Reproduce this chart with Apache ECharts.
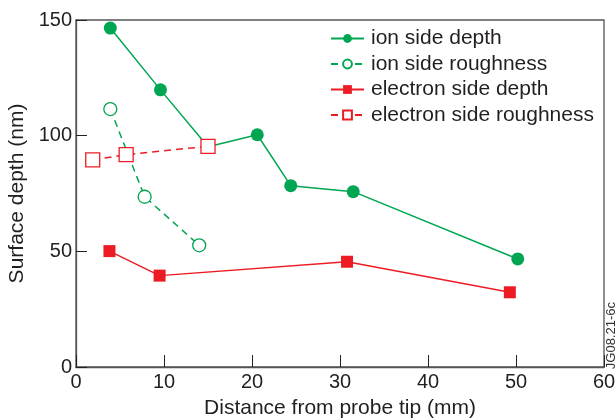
<!DOCTYPE html>
<html><head><meta charset="utf-8">
<script src="https://cdn.jsdelivr.net/npm/echarts@6/dist/echarts.min.js"></script>
<style>html,body{margin:0;padding:0;background:#fff}#c{width:615px;height:419px}</style>
</head><body><div id="c"></div>
<script>
const xTicks = [0, 10, 20, 30, 40, 50, 60];
const yTicks = [0, 50, 100, 150];
const seriesNames = ['ion side depth', 'ion side roughness', 'electron side depth', 'electron side roughness'];
const ionDepth = [[3.9, 146.5], [9.6, 119.8], [15.0, 95.2], [20.6, 100.4], [24.4, 78.4], [31.5, 75.8], [50.2, 46.7]];
const ionRough = [[3.9, 111.5], [7.8, 73.6], [14.0, 52.6]];
const elecDepth = [[3.8, 50.1], [9.5, 39.5], [30.8, 45.5], [49.3, 32.3]];
const elecRough = [[1.9, 89.5], [5.7, 91.8], [15.0, 95.4]];

const green = '#00a651', red = '#ed1c24', txt = '#231f20', axisCol = '#555';
const font = '"Liberation Sans", Arial, Helvetica, sans-serif';

const chart = echarts.init(document.getElementById('c'), null, {renderer: 'canvas'});
function mk(name, data, color, dashed, filled, symbol, size) {
  return {
    name, type: 'line', data, symbol, symbolSize: size,
    lineStyle: {color, width: 1.5, type: dashed ? [7, 5] : 'solid'},
    itemStyle: {color: filled ? color : '#fff', borderColor: color, borderWidth: filled ? 0 : 1.3},
    emphasis: {disabled: true}, animation: false, z: filled ? 3 : 4
  };
}
chart.setOption({
  animation: false,
  grid: {left: 76, right: 11, top: 20, bottom: 52, outerBoundsMode: 'none', containLabel: false,
         show: true, borderColor: axisCol, borderWidth: 1.3, backgroundColor: 'transparent'},
  legend: {
    left: 325, top: 23, orient: 'vertical', itemWidth: 33, itemHeight: 11, itemGap: 4.5,
    data: seriesNames,
    textStyle: {fontFamily: font, fontSize: 21, lineHeight: 21, color: txt, padding: [0, 0, 0, 2]},
    selectedMode: false
  },
  xAxis: {
    type: 'value', min: xTicks[0], max: xTicks[xTicks.length - 1], interval: 10,
    name: 'Distance from probe tip (mm)', nameLocation: 'middle', nameGap: 31,
    nameTextStyle: {fontFamily: font, fontSize: 21, color: txt},
    axisLine: {show: true, lineStyle: {color: axisCol, width: 1.3}},
    axisTick: {show: true, inside: true, length: 12, lineStyle: {color: '#222', width: 1}},
    axisLabel: {fontFamily: font, fontSize: 20, color: txt, margin: 5},
    splitLine: {show: false}
  },
  yAxis: {
    type: 'value', min: yTicks[0], max: yTicks[yTicks.length - 1], interval: 50,
    name: 'Surface depth (nm)', nameLocation: 'middle', nameGap: 36,
    nameTextStyle: {fontFamily: font, fontSize: 21, color: txt},
    axisLine: {show: true, lineStyle: {color: axisCol, width: 1.3}},
    axisTick: {show: true, inside: true, length: 11, lineStyle: {color: '#222', width: 1}},
    axisLabel: {fontFamily: font, fontSize: 20, color: txt, margin: 4},
    splitLine: {show: false}
  },
  graphic: [{
    type: 'text', left: 605, top: 302, rotation: Math.PI / 2,
    style: {text: 'JG08.21-6c', fontFamily: font, fontSize: 13, fill: '#333'}
  }],
  series: [
    mk(seriesNames[0], ionDepth, green, false, true, 'circle', 13),
    mk(seriesNames[1], ionRough, green, true, false, 'circle', 13),
    mk(seriesNames[2], elecDepth, red, false, true, 'rect', 12),
    mk(seriesNames[3], elecRough, red, true, false, 'rect', 14)
  ]
});
</script></body></html>
